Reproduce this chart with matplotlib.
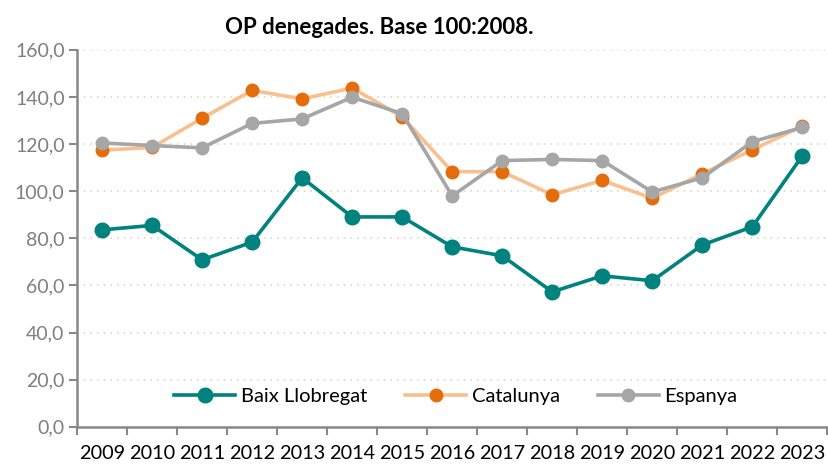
import numpy as np
import matplotlib.pyplot as plt

years = ['2009', '2010', '2011', '2012', '2013', '2014', '2015', '2016',
         '2017', '2018', '2019', '2020', '2021', '2022', '2023']
baix = [83.6, 85.5, 70.9, 78.4, 105.7, 89.1, 89.1, 76.4, 72.6, 57.3, 64.1, 62.0, 77.2, 84.9, 115.0]
catalunya = [117.4, 118.6, 131.0, 142.8, 139.2, 143.8, 131.6, 108.3, 108.3, 98.5, 104.6, 97.0, 107.4, 117.6, 127.6]
espanya = [120.5, 119.4, 118.4, 128.8, 130.7, 139.9, 132.9, 98.0, 113.0, 113.5, 113.0, 99.7, 105.7, 121.0, 127.1]

plt.rcParams['font.family'] = ['Lato', 'DejaVu Sans']

fig = plt.figure(figsize=(8.29, 4.66), dpi=100)
ax = fig.add_axes([0.093, 0.084, 0.905, 0.809])
x = np.arange(len(years))

ax.plot(x, baix, '-o', color='#00827F', lw=2.6, markersize=10.5, label='Baix Llobregat', zorder=3)
ax.plot(x, catalunya, '-o', color='#F9C08F', lw=2.6, markersize=9,
        markerfacecolor='#E46C0A', markeredgecolor='#E46C0A', label='Catalunya', zorder=3)
ax.plot(x, espanya, '-o', color='#A6A6A6', lw=2.6, markersize=9, label='Espanya', zorder=4)

ax.set_xlim(-0.5, len(years) - 0.5)
ax.set_ylim(0, 160)
ax.set_yticks(np.arange(0, 161, 20))
ax.set_yticklabels([f'{v:.1f}'.replace('.', ',') for v in np.arange(0, 161, 20)],
                   color='#7F7F7F', fontsize=14)
ax.set_xticks(x)
ax.set_xticklabels(years, fontsize=14.3)
ax.set_xticks(np.arange(-0.5, len(years), 1), minor=True)
ax.tick_params(axis='x', which='major', length=0, pad=13)
ax.tick_params(axis='x', which='minor', length=6, width=1.5, color='#888888')
ax.tick_params(axis='y', length=6, width=1.5, color='#888888', pad=3)

ax.grid(axis='y', linestyle=(0, (1, 3)), color='#DADAC8', lw=1.2)
ax.set_axisbelow(True)
for s in ['top', 'right']:
    ax.spines[s].set_visible(False)
for s in ['left', 'bottom']:
    ax.spines[s].set_color('#888888')
    ax.spines[s].set_linewidth(1.8)

ax.legend(loc='lower center', bbox_to_anchor=(0.505, 0.01), ncol=3, frameon=False,
          fontsize=14.5, handlelength=3, columnspacing=1.9, handletextpad=0.3)

fig.text(0.458, 0.94, 'OP denegades. Base 100:2008.', ha='center', va='center',
         fontsize=16, fontweight='bold')

fig.savefig('out.png', dpi=100)
